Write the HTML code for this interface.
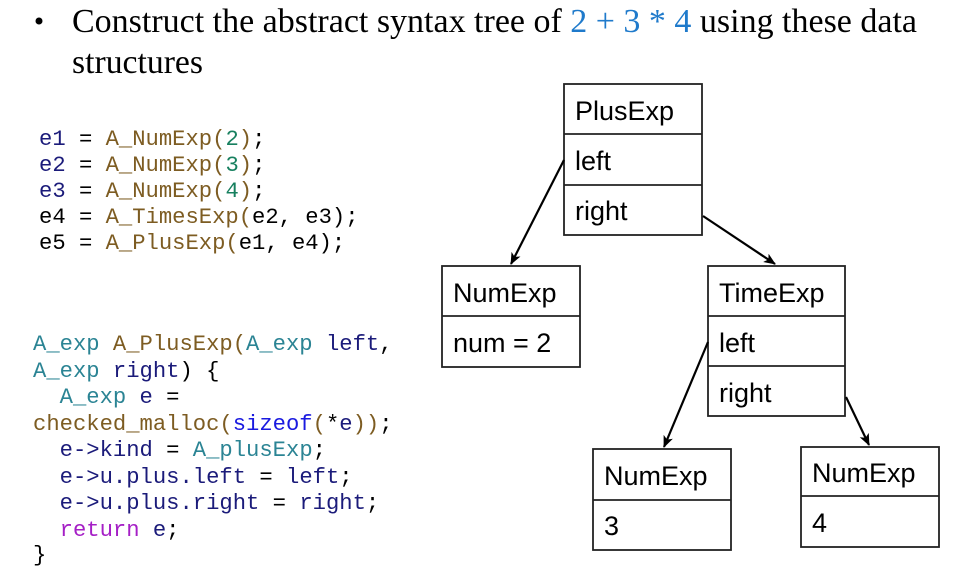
<!DOCTYPE html>
<html><head><meta charset="utf-8"><style>
html,body{margin:0;padding:0;background:#fff;width:973px;height:580px;overflow:hidden}
svg{display:block}
text{white-space:pre}
.m{font-family:"Liberation Mono",monospace;font-size:22.2px}
.s{font-family:"Liberation Sans",sans-serif;font-size:27px;fill:#000}
.n{fill:#1b1b7a}.f{fill:#7d5c22}.t{fill:#2b8494}.g{fill:#17805f}.b{fill:#1a1ae0}.p{fill:#a51fc6}.k{fill:#000}
</style></head><body>
<svg width="973" height="580" viewBox="0 0 973 580" xmlns="http://www.w3.org/2000/svg">
<defs><marker id="a" markerWidth="14" markerHeight="12" refX="11" refY="5" orient="auto" markerUnits="userSpaceOnUse"><path d="M0,0 L12,5 L0,10 L3,5 z" fill="#000"/></marker></defs>
<circle cx="39" cy="21" r="3.5" fill="#000"/>
<text x="72" y="32" font-family="Liberation Serif,serif" font-size="34" textLength="845" lengthAdjust="spacingAndGlyphs">Construct the abstract syntax tree of <tspan fill="#1f7acb">2 + 3 * 4</tspan> using these data</text>
<text x="72" y="73" font-family="Liberation Serif,serif" font-size="34" textLength="131" lengthAdjust="spacingAndGlyphs">structures</text>
<g class="m">
<text x="39" y="145"><tspan class="n">e1</tspan><tspan class="k"> = </tspan><tspan class="f">A_NumExp(</tspan><tspan class="g">2</tspan><tspan class="f">)</tspan><tspan class="k">;</tspan></text>
<text x="39" y="171"><tspan class="n">e2</tspan><tspan class="k"> = </tspan><tspan class="f">A_NumExp(</tspan><tspan class="g">3</tspan><tspan class="f">)</tspan><tspan class="k">;</tspan></text>
<text x="39" y="197"><tspan class="n">e3</tspan><tspan class="k"> = </tspan><tspan class="f">A_NumExp(</tspan><tspan class="g">4</tspan><tspan class="f">)</tspan><tspan class="k">;</tspan></text>
<text x="39" y="223"><tspan class="k">e4 = </tspan><tspan class="f">A_TimesExp(</tspan><tspan class="k">e2, e3);</tspan></text>
<text x="39" y="249"><tspan class="k">e5 = </tspan><tspan class="f">A_PlusExp(</tspan><tspan class="k">e1, e4);</tspan></text>
<text x="33" y="350"><tspan class="t">A_exp </tspan><tspan class="f">A_PlusExp(</tspan><tspan class="t">A_exp </tspan><tspan class="n">left</tspan><tspan class="k">,</tspan></text>
<text x="33" y="377"><tspan class="t">A_exp </tspan><tspan class="n">right</tspan><tspan class="k">) {</tspan></text>
<text x="33" y="403"><tspan class="t">  A_exp </tspan><tspan class="n">e</tspan><tspan class="k"> =</tspan></text>
<text x="33" y="430"><tspan class="f">checked_malloc(</tspan><tspan class="b">sizeof</tspan><tspan class="f">(</tspan><tspan class="k">*</tspan><tspan class="n">e</tspan><tspan class="f">))</tspan><tspan class="k">;</tspan></text>
<text x="33" y="456"><tspan class="n">  e-&gt;kind</tspan><tspan class="k"> = </tspan><tspan class="t">A_plusExp</tspan><tspan class="k">;</tspan></text>
<text x="33" y="483"><tspan class="n">  e-&gt;u.plus.left</tspan><tspan class="k"> = </tspan><tspan class="n">left</tspan><tspan class="k">;</tspan></text>
<text x="33" y="509"><tspan class="n">  e-&gt;u.plus.right</tspan><tspan class="k"> = </tspan><tspan class="n">right</tspan><tspan class="k">;</tspan></text>
<text x="33" y="536"><tspan class="p">  return</tspan><tspan class="n"> e</tspan><tspan class="k">;</tspan></text>
<text x="33" y="561" class="k">}</text>
</g>
<g fill="none" stroke="#222" stroke-width="1.8">
<rect x="564" y="84" width="138" height="151"/><line x1="564" y1="134" x2="702" y2="134"/><line x1="564" y1="185" x2="702" y2="185"/>
<rect x="442" y="266" width="138" height="101"/><line x1="442" y1="316" x2="580" y2="316"/>
<rect x="708" y="266" width="137" height="150"/><line x1="708" y1="316" x2="845" y2="316"/><line x1="708" y1="366" x2="845" y2="366"/>
<rect x="593" y="449" width="138" height="101"/><line x1="593" y1="500" x2="731" y2="500"/>
<rect x="801" y="447" width="138" height="100"/><line x1="801" y1="496" x2="939" y2="496"/>
</g>
<g stroke="#000" stroke-width="2.2" marker-end="url(#a)">
<line x1="564" y1="160" x2="511" y2="264"/>
<line x1="703" y1="216" x2="775" y2="264"/>
<line x1="708" y1="342" x2="664" y2="447"/>
<line x1="846" y1="397" x2="869" y2="445"/>
</g>
<g class="s">
<text x="575" y="120">PlusExp</text><text x="575" y="170">left</text><text x="575" y="220">right</text>
<text x="453" y="302">NumExp</text><text x="453" y="352">num = 2</text>
<text x="719" y="302">TimeExp</text><text x="719" y="352">left</text><text x="719" y="402">right</text>
<text x="604" y="485">NumExp</text><text x="604" y="535">3</text>
<text x="812" y="482">NumExp</text><text x="812" y="532">4</text>
</g>
</svg>
</body></html>
